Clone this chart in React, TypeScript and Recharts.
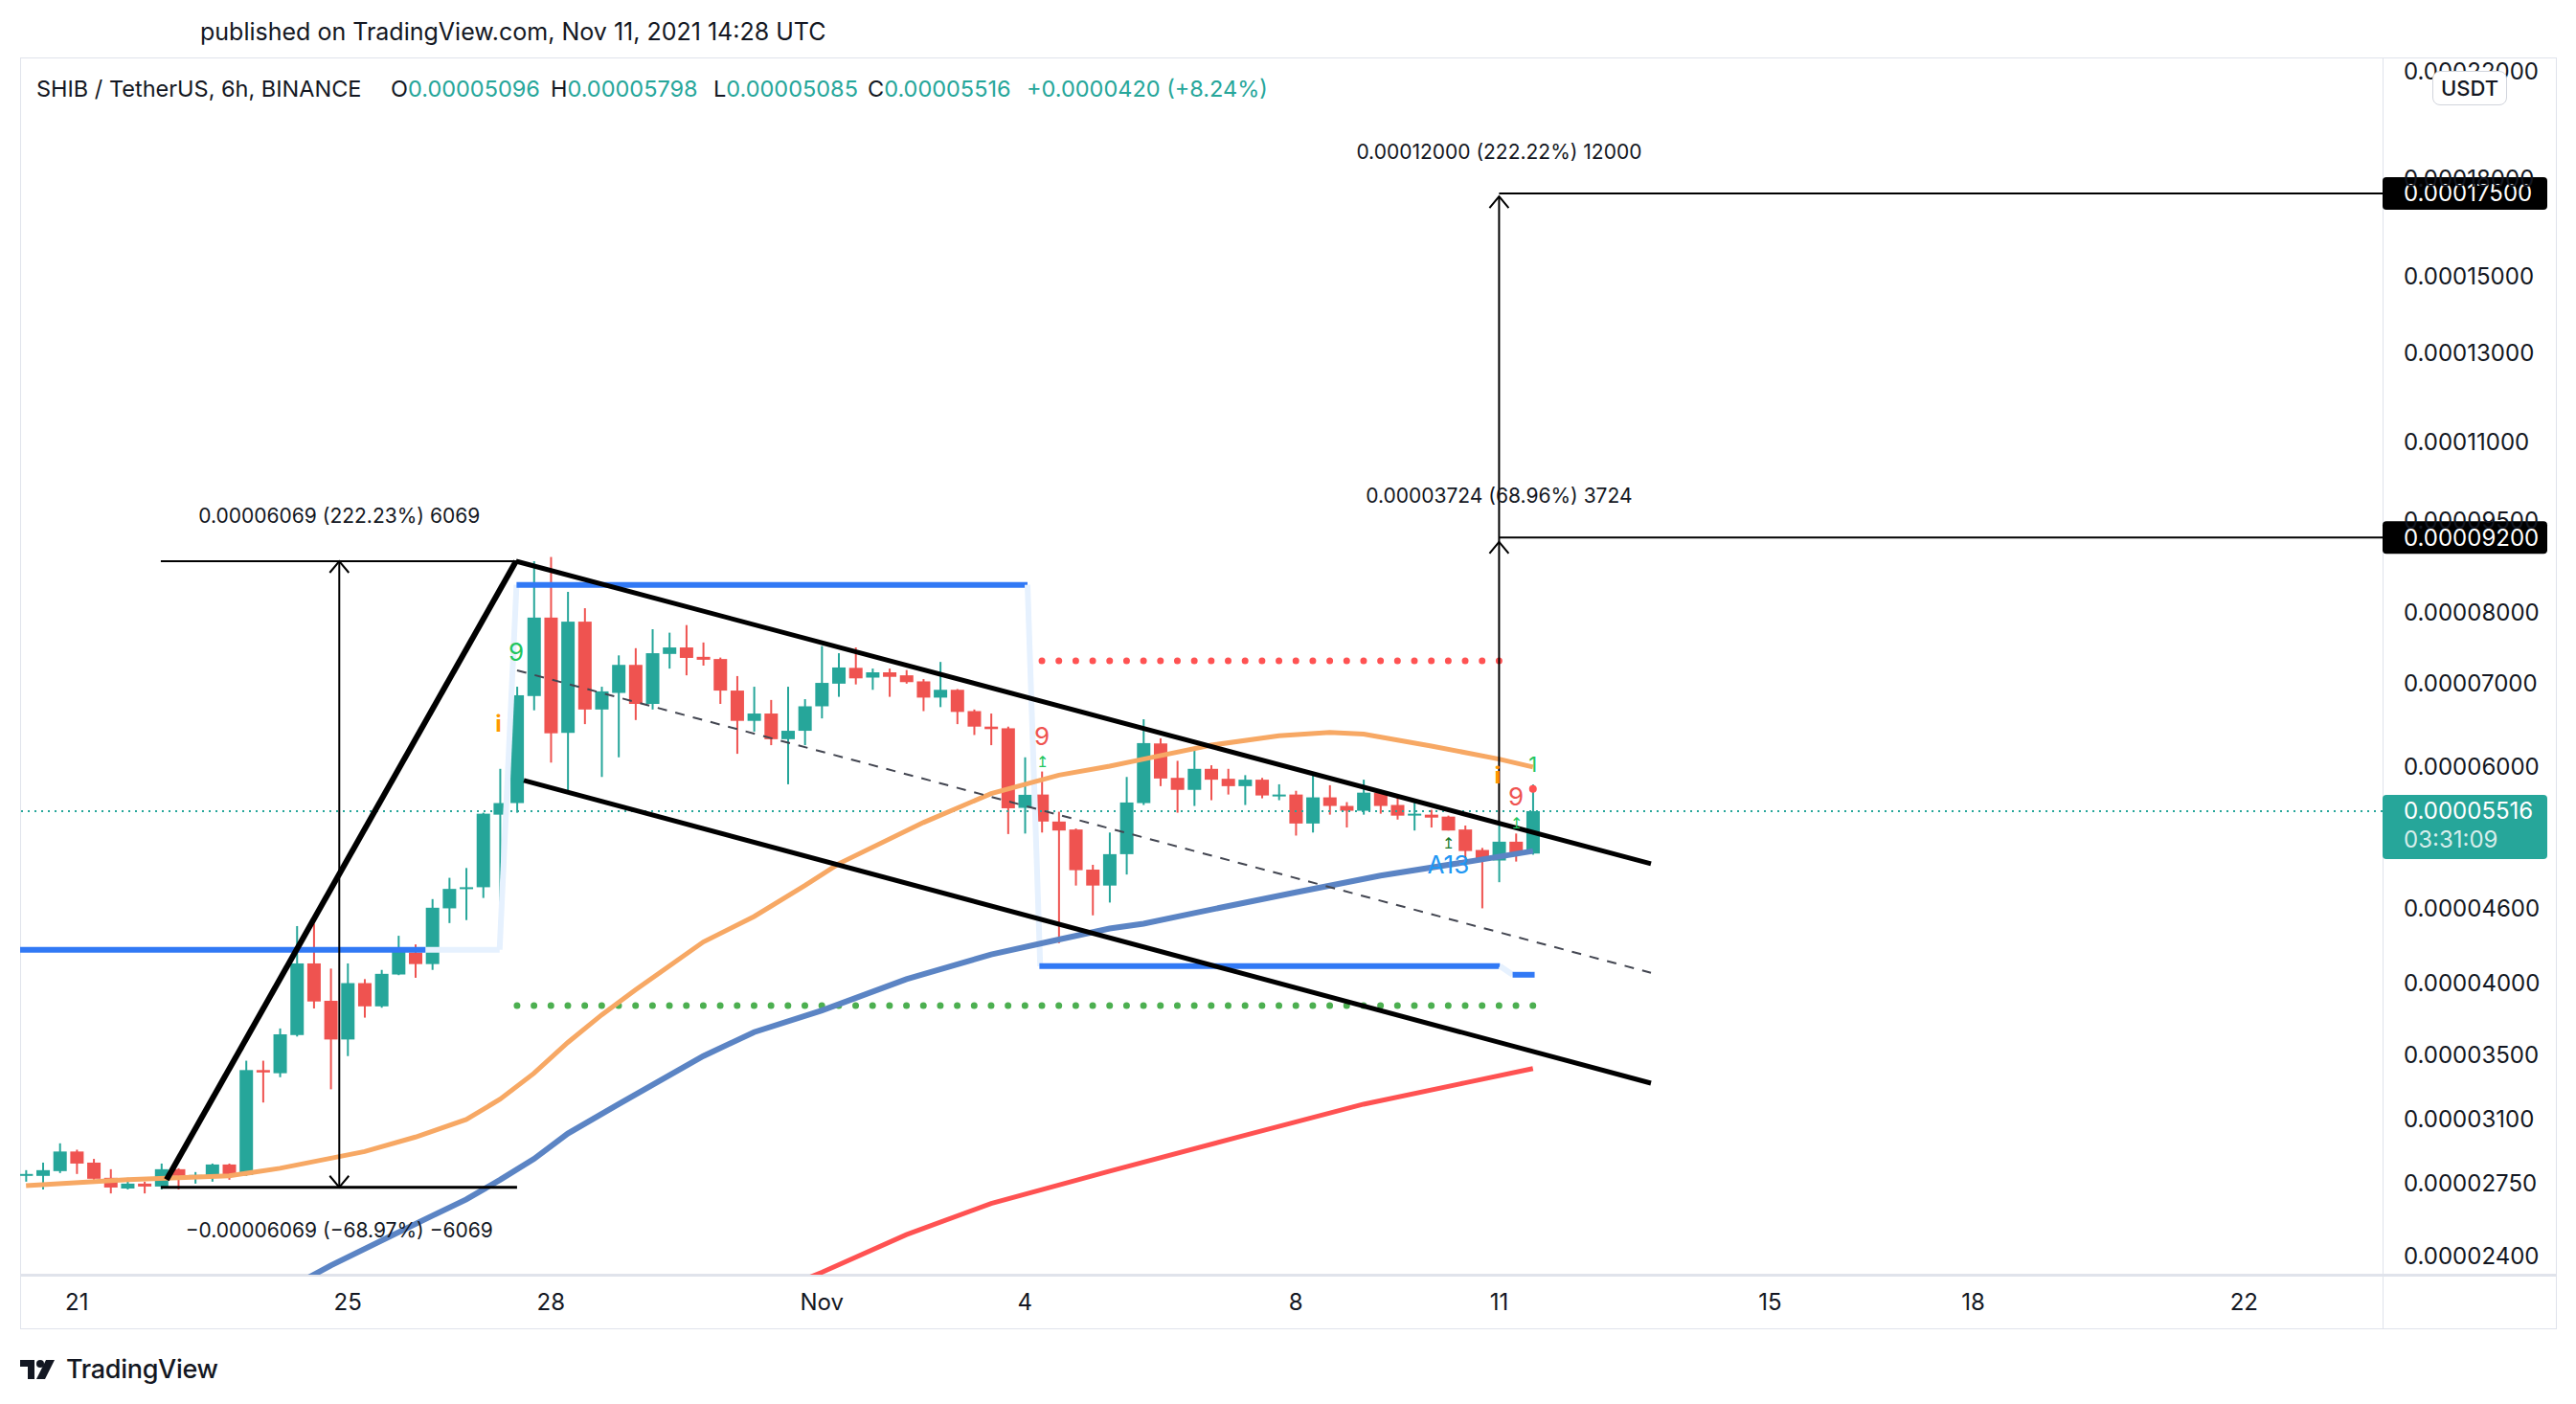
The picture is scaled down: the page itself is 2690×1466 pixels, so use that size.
import React from 'react'
import {
  ComposedChart,
  Bar,
  Line,
  XAxis,
  YAxis,
  ReferenceLine,
  ReferenceDot,
} from 'recharts'

const UNIT = 1e-5
const UP = '#26a69a'
const DOWN = '#ef5350'
const INK = '#131722'
const FONT = 'Inter, "Noto Sans", sans-serif'

// SHIB/USDT 6h candles, first bar Oct 20 06:00 UTC, prices in 1e-5 USDT
const opens = [
  2.79, 2.79, 2.815, 2.92, 2.86, 2.78, 2.725, 2.75, 2.735, 2.825,
  2.785, 2.79, 2.85, 2.795, 3.4, 3.38, 3.63, 4.15, 3.87, 3.6,
  4.0, 3.83, 4.065, 4.235, 4.145, 4.6, 4.77, 4.785, 5.48, 5.6,
  6.84, 7.92, 6.385, 7.86, 6.67, 6.88, 7.25, 6.74, 7.4, 7.49,
  7.36, 7.33, 6.91, 6.53, 6.62, 6.31, 6.41, 6.71, 7.0, 7.21,
  7.08, 7.15, 7.11, 7.03, 6.82, 6.92, 6.65, 6.46, 6.44, 5.55,
  5.69, 5.41, 5.33, 4.945, 4.8, 5.09, 5.6, 6.26, 5.87, 5.74,
  5.97, 5.86, 5.78, 5.85, 5.68, 5.69, 5.39, 5.66, 5.57, 5.52,
  5.71, 5.58, 5.48, 5.48, 5.46, 5.33, 5.13, 5.03, 5.21, 5.096,
]
const highs = [
  2.82, 2.86, 2.965, 2.93, 2.88, 2.825, 2.78, 2.76, 2.855, 2.83,
  2.81, 2.855, 2.855, 3.46, 3.46, 3.675, 4.45, 4.47, 4.11, 4.15,
  4.03, 4.1, 4.37, 4.3, 4.68, 4.87, 4.96, 5.5, 5.97, 6.96,
  8.8, 8.87, 8.31, 8.06, 6.96, 7.38, 7.48, 7.75, 7.7, 7.81,
  7.56, 7.35, 7.1, 6.96, 6.79, 6.96, 6.8, 7.51, 7.41, 7.49,
  7.2, 7.2, 7.18, 7.06, 7.29, 6.93, 6.67, 6.62, 6.46, 6.1,
  5.94, 5.51, 5.34, 4.99, 5.3, 5.88, 6.55, 6.32, 6.06, 6.18,
  6.01, 5.97, 5.9, 5.87, 5.8, 5.73, 5.91, 5.79, 5.61, 5.85,
  5.74, 5.67, 5.62, 5.53, 5.47, 5.37, 5.15, 5.41, 5.29, 5.798,
]
const lows = [
  2.76, 2.72, 2.805, 2.8, 2.77, 2.7, 2.72, 2.7, 2.72, 2.72,
  2.75, 2.76, 2.77, 2.79, 3.2, 3.355, 3.62, 3.815, 3.28, 3.49,
  3.75, 3.82, 4.06, 4.04, 4.1, 4.475, 4.5, 4.69, 4.65, 5.5,
  6.66, 6.04, 5.71, 6.49, 5.88, 6.1, 6.54, 6.67, 7.2, 7.11,
  7.24, 6.74, 6.14, 6.4, 6.24, 5.8, 6.24, 6.56, 6.83, 6.99,
  6.92, 6.83, 7.0, 6.65, 6.7, 6.49, 6.36, 6.24, 5.285, 5.29,
  5.3, 4.31, 4.8, 4.54, 4.65, 4.9, 5.58, 5.78, 5.5, 5.57,
  5.63, 5.69, 5.58, 5.65, 5.63, 5.27, 5.3, 5.48, 5.35, 5.48,
  5.49, 5.43, 5.32, 5.35, 5.32, 5.02, 4.6, 4.83, 5.02, 5.085,
]
const closes = [
  2.8, 2.82, 2.92, 2.855, 2.775, 2.73, 2.75, 2.735, 2.825, 2.79,
  2.795, 2.85, 2.79, 3.4, 3.385, 3.635, 4.15, 3.865, 3.6, 4.0,
  3.83, 4.07, 4.24, 4.145, 4.605, 4.77, 4.785, 5.49, 5.6, 6.85,
  7.92, 6.38, 7.86, 6.67, 6.9, 7.25, 6.74, 7.41, 7.49, 7.345,
  7.32, 6.91, 6.53, 6.62, 6.31, 6.41, 6.71, 7.01, 7.215, 7.07,
  7.15, 7.09, 7.02, 6.82, 6.92, 6.64, 6.46, 6.43, 5.546, 5.687,
  5.41, 5.32, 4.94, 4.8, 5.09, 5.606, 6.264, 5.863, 5.74, 5.97,
  5.85, 5.78, 5.85, 5.68, 5.69, 5.39, 5.66, 5.57, 5.52, 5.71,
  5.57, 5.47, 5.49, 5.45, 5.32, 5.12, 5.03, 5.21, 5.09, 5.516,
]

// moving averages: [candle index, value]
const emaOrange: [number, number][] = [
  [0, 2.74], [6, 2.77], [12, 2.79], [15, 2.83], [20, 2.92], [23, 3.0],
  [26, 3.1], [28, 3.22], [30, 3.38], [32, 3.58], [34, 3.77], [36, 3.95],
  [40, 4.32], [43, 4.53], [46, 4.8], [48, 5.0], [53, 5.4], [57, 5.7],
  [61, 5.9], [64, 6.0], [66, 6.08], [70, 6.24], [74, 6.35], [77, 6.39],
  [79, 6.37], [81, 6.3], [83, 6.23], [87, 6.08], [89, 5.99],
]
const maBlue: [number, number][] = [
  [16, 2.28], [18, 2.36], [24, 2.59], [26, 2.67], [28, 2.77], [30, 2.88],
  [32, 3.02], [35, 3.19], [40, 3.49], [43, 3.65], [47, 3.8], [52, 4.03],
  [57, 4.22], [61, 4.34], [64, 4.43], [66, 4.47], [69, 4.56], [75, 4.74],
  [80, 4.89], [86, 5.04], [89, 5.12],
]
const maRed: [number, number][] = [
  [45, 2.27], [47, 2.33], [52, 2.5], [57, 2.65], [64, 2.815], [72, 3.01],
  [79, 3.19], [85, 3.32], [89, 3.41],
]

const dateTicks = [3, 19, 31, 47, 59, 75, 87, 103, 115, 131]
const dateLabels = ['21', '25', '28', 'Nov', '4', '8', '11', '15', '18', '22']
const priceTicks = [2.4, 2.75, 3.1, 3.5, 4.0, 4.6, 6.0, 7.0, 8.0, 9.5, 11, 13, 15, 18, 22]

const X_MIN = -0.35
const X_MAX = 139.18
const Y_MIN = 2.3195 * UNIT
const Y_MAX = 22.56 * UNIT

const toMap = (pts: [number, number][]) => new Map(pts.map(([i, v]) => [i, v * UNIT]))
const orangeMap = toMap(emaOrange)
const blueMap = toMap(maBlue)
const redMap = toMap(maRed)

const rows = opens.map((o, i) => ({
  i,
  open: o * UNIT,
  high: highs[i] * UNIT,
  low: lows[i] * UNIT,
  close: closes[i] * UNIT,
  range: [lows[i] * UNIT, highs[i] * UNIT],
  ema: orangeMap.get(i) ?? null,
  blue: blueMap.get(i) ?? null,
  red: redMap.get(i) ?? null,
}))

const seg = (x1: number, y1: number, x2: number, y2: number) => [
  { x: x1, y: y1 * UNIT },
  { x: x2, y: y2 * UNIT },
]

const Candle = (props: any) => {
  const { x, y, width, height, payload } = props
  if (!payload) return null
  const { open, close, high, low } = payload
  const color = close >= open ? UP : DOWN
  const lh = Math.log(high)
  const ll = Math.log(low)
  const span = lh - ll || 1
  const toY = (v: number) => y + (height * (lh - Math.log(v))) / span
  const cx = x + width / 2
  const top = toY(Math.max(open, close))
  const bot = toY(Math.min(open, close))
  return (
    <g>
      <line x1={cx} x2={cx} y1={y} y2={y + height} stroke={color} strokeWidth={2} />
      <rect x={x} y={top} width={width} height={Math.max(bot - top, 2)} fill={color} />
    </g>
  )
}

const AxisBox = (props: any) => {
  const { viewBox, text, sub, fill } = props
  if (!viewBox) return null
  const right = viewBox.x + viewBox.width
  const cy = viewBox.y
  const h = sub ? 67 : 34
  return (
    <g>
      <rect x={right} y={cy - 17} width={172} height={h} rx={4} fill={fill} />
      <text x={right + 22} y={cy} dominantBaseline="central" fill="#fff" fontSize={24} fontFamily={FONT}>
        {text}
      </text>
      {sub && (
        <text x={right + 22} y={cy + 30} dominantBaseline="central" fill="rgba(255,255,255,0.82)" fontSize={24} fontFamily={FONT}>
          {sub}
        </text>
      )}
    </g>
  )
}

const arrow = (dir: number) => (p: any) => (
  <path
    d={`M${p.cx - 10},${p.cy + dir * 12} L${p.cx},${p.cy} L${p.cx + 10},${p.cy + dir * 12}`}
    stroke="#000"
    strokeWidth={2}
    fill="none"
  />
)

const note = (text: string, color: string, size: number, weight = 400) => (p: any) => (
  <text
    x={p.cx}
    y={p.cy}
    textAnchor="middle"
    dominantBaseline="central"
    fill={color}
    fontSize={size}
    fontWeight={weight}
    fontFamily={FONT}
  >
    {text}
  </text>
)

// tool labels and TD sequential marks, placed in data coordinates
const notes = [
  { i: 18.5, p: 9.573, text: '0.00006069 (222.23%) 6069', color: INK, size: 21 },
  { i: 18.5, p: 2.519, text: '\u22120.00006069 (\u221268.97%) \u22126069', color: INK, size: 21 },
  { i: 87, p: 18.93, text: '0.00012000 (222.22%) 12000', color: INK, size: 21 },
  { i: 87, p: 9.94, text: '0.00003724 (68.96%) 3724', color: INK, size: 21 },
  { i: 28.95, p: 7.43, text: '9', color: '#22c55e', size: 26 },
  { i: 27.9, p: 6.5, text: 'i', color: '#ff9800', size: 24, weight: 700 },
  { i: 60, p: 6.35, text: '9', color: DOWN, size: 26 },
  { i: 60, p: 6.05, text: '\u21a5', color: '#22c55e', size: 16 },
  { i: 86.9, p: 5.895, text: 'i', color: '#ff9800', size: 24, weight: 700 },
  { i: 88, p: 5.67, text: '9', color: DOWN, size: 26 },
  { i: 89, p: 6.02, text: '1', color: '#22c55e', size: 22 },
  { i: 88, p: 5.4, text: '\u21a5', color: '#22c55e', size: 16 },
  { i: 84, p: 5.2, text: '\u21a5', color: '#1b7a2e', size: 16 },
  { i: 84, p: 4.99, text: 'A13', color: '#2196f3', size: 26 },
]

const Logo = () => (
  <svg width="44" height="28" viewBox="0 0 44 28">
    <path d="M0 4h15v20H8V11H0z" fill={INK} />
    <circle cx="21" cy="8" r="4" fill={INK} />
    <path d="M27 4h9l-10 20h-9z" fill={INK} />
  </svg>
)

export default function App() {
  return (
    <div style={{ position: 'relative', width: 2690, height: 1466, background: '#fff', fontFamily: FONT, color: INK }}>
      <style>{'body{margin:0}'}</style>

      {/* pane frame */}
      <div style={{ position: 'absolute', left: 21, top: 60, width: 2647, height: 1326, border: '1px solid #e0e3eb' }} />
      <div style={{ position: 'absolute', left: 2488, top: 60, width: 1, height: 1327, background: '#e0e3eb' }} />
      <div style={{ position: 'absolute', left: 21, top: 1330, width: 2648, height: 3, background: '#e0e3eb' }} />

      <div style={{ position: 'absolute', left: 209, top: 17, fontSize: 25, lineHeight: '32px' }}>
        published on TradingView.com, Nov 11, 2021 14:28 UTC
      </div>

      <div style={{ position: 'absolute', left: 0, top: 0 }}>
        <ComposedChart width={2690} height={1466} data={rows} margin={{ top: 60, right: 21, bottom: 80, left: 21 }}>
          <XAxis
            dataKey="i"
            type="number"
            domain={[X_MIN, X_MAX]}
            allowDataOverflow
            ticks={dateTicks}
            interval={0}
            tickFormatter={(v: number) => dateLabels[dateTicks.indexOf(v)] ?? ''}
            axisLine={false}
            tickLine={false}
            tickSize={0}
            tickMargin={20}
            height={55}
            tick={{ fill: INK, fontSize: 24, fontFamily: FONT }}
          />
          <YAxis
            orientation="right"
            scale="log"
            domain={[Y_MIN, Y_MAX]}
            allowDataOverflow
            ticks={priceTicks.map((v) => v * UNIT)}
            interval={0}
            tickFormatter={(v: number) => v.toFixed(8)}
            axisLine={false}
            tickLine={false}
            tickSize={0}
            tickMargin={22}
            width={181}
            tick={{ fill: INK, fontSize: 24, fontFamily: FONT }}
          />

          {/* current price line */}
          <ReferenceLine
            y={closes[closes.length - 1] * UNIT}
            stroke={UP}
            strokeWidth={2}
            strokeDasharray="2 5"
            label={<AxisBox text="0.00005516" sub="03:31:09" fill={UP} />}
          />

          {/* horizontal levels */}
          <ReferenceLine segment={seg(X_MIN, 4.257, 23.6, 4.257)} stroke="#3179f5" strokeWidth={6} />
          <ReferenceLine segment={seg(23.6, 4.257, 27.97, 4.257)} stroke="#e6f1fe" strokeWidth={6} />
          <ReferenceLine segment={seg(27.97, 4.257, 28.97, 8.42)} stroke="#e6f1fe" strokeWidth={6} />
          <ReferenceLine segment={seg(28.97, 8.42, 59.15, 8.42)} stroke="#3179f5" strokeWidth={6} />
          <ReferenceLine segment={seg(59.15, 8.42, 59.9, 4.129)} stroke="#e6f1fe" strokeWidth={6} />
          <ReferenceLine segment={seg(59.85, 4.129, 87.05, 4.129)} stroke="#3179f5" strokeWidth={6} />
          <ReferenceLine segment={seg(87.05, 4.129, 87.8, 4.063)} stroke="#e6f1fe" strokeWidth={6} />
          <ReferenceLine segment={seg(87.8, 4.063, 89.1, 4.063)} stroke="#3179f5" strokeWidth={6} />
          <ReferenceLine
            segment={seg(60, 7.306, 87.02, 7.306)}
            stroke="#ff5252"
            strokeWidth={7}
            strokeDasharray="0 17.68"
            strokeLinecap="round"
          />
          <ReferenceLine
            segment={seg(29, 3.836, 89.02, 3.836)}
            stroke="#4caf50"
            strokeWidth={7}
            strokeDasharray="0 17.68"
            strokeLinecap="round"
          />

          <Line dataKey="red" stroke="#ff5252" strokeWidth={5} dot={false} connectNulls isAnimationActive={false} />
          <Line dataKey="blue" stroke="#5b84c4" strokeWidth={6} dot={false} connectNulls isAnimationActive={false} />
          <Line dataKey="ema" stroke="#f7a864" strokeWidth={5} dot={false} connectNulls isAnimationActive={false} />

          {/* flag and channel */}
          <ReferenceLine segment={seg(29.0, 7.176, 95.97, 4.078)} stroke="#434651" strokeWidth={2} strokeDasharray="10 9" />
          <ReferenceLine segment={seg(8.3, 2.77, 28.94, 8.8)} stroke="#000" strokeWidth={6} />
          <ReferenceLine segment={seg(28.94, 8.8, 95.97, 5.0)} stroke="#000" strokeWidth={5} />
          <ReferenceLine segment={seg(29.4, 5.842, 95.97, 3.318)} stroke="#000" strokeWidth={5} />

          {/* price range tools */}
          <ReferenceLine segment={seg(7.96, 8.8, 29.0, 8.8)} stroke="#000" strokeWidth={2} />
          <ReferenceLine segment={seg(7.96, 2.731, 29.0, 2.731)} stroke="#000" strokeWidth={3} />
          <ReferenceLine segment={seg(18.5, 8.8, 18.5, 2.731)} stroke="#000" strokeWidth={2} />
          <ReferenceLine segment={seg(87, 5.4, 87, 17.4)} stroke="#000" strokeWidth={2} />
          <ReferenceLine
            segment={seg(87, 17.5, X_MAX, 17.5)}
            stroke="#000"
            strokeWidth={2}
            label={<AxisBox text="0.00017500" fill="#000" />}
          />
          <ReferenceLine
            segment={seg(87, 9.2, X_MAX, 9.2)}
            stroke="#000"
            strokeWidth={2}
            label={<AxisBox text="0.00009200" fill="#000" />}
          />
          <ReferenceDot x={18.5} y={8.8 * UNIT} r={0} shape={arrow(1)} />
          <ReferenceDot x={18.5} y={2.731 * UNIT} r={0} shape={arrow(-1)} />
          <ReferenceDot x={87} y={17.4 * UNIT} r={0} shape={arrow(1)} />
          <ReferenceDot x={87} y={9.124 * UNIT} r={0} shape={arrow(1)} />

          <Bar dataKey="range" barSize={14} shape={<Candle />} isAnimationActive={false} />

          <ReferenceDot x={89} y={5.75 * UNIT} r={4} fill="#ff5252" stroke="none" />
          {notes.map((n, k) => (
            <ReferenceDot
              key={k}
              x={n.i}
              y={n.p * UNIT}
              r={0}
              shape={note(n.text, n.color, n.size, n.weight)}
            />
          ))}
        </ComposedChart>
      </div>

      {/* legend */}
      <div style={{ position: 'absolute', top: 77, left: 0, fontSize: 23.5, lineHeight: '32px', whiteSpace: 'nowrap' }}>
        <span style={{ position: 'absolute', left: 38 }}>SHIB / TetherUS, 6h, BINANCE</span>
        <span style={{ position: 'absolute', left: 408 }}>O<span style={{ color: UP }}>0.00005096</span></span>
        <span style={{ position: 'absolute', left: 575 }}>H<span style={{ color: UP }}>0.00005798</span></span>
        <span style={{ position: 'absolute', left: 745 }}>L<span style={{ color: UP }}>0.00005085</span></span>
        <span style={{ position: 'absolute', left: 906 }}>C<span style={{ color: UP }}>0.00005516</span></span>
        <span style={{ position: 'absolute', left: 1072, color: UP }}>+0.0000420 (+8.24%)</span>
      </div>

      {/* currency badge */}
      <div
        style={{
          position: 'absolute',
          left: 2540,
          top: 74,
          width: 76,
          height: 34,
          border: '1px solid #d1d4dc',
          borderRadius: 8,
          background: '#fff',
          fontSize: 22,
          fontWeight: 500,
          lineHeight: '34px',
          textAlign: 'center',
        }}
      >
        USDT
      </div>

      <div style={{ position: 'absolute', left: 21, top: 1413, display: 'flex', alignItems: 'center', gap: 4 }}>
        <Logo />
        <span style={{ fontSize: 27, fontWeight: 500, letterSpacing: -0.3 }}>TradingView</span>
      </div>
    </div>
  )
}
